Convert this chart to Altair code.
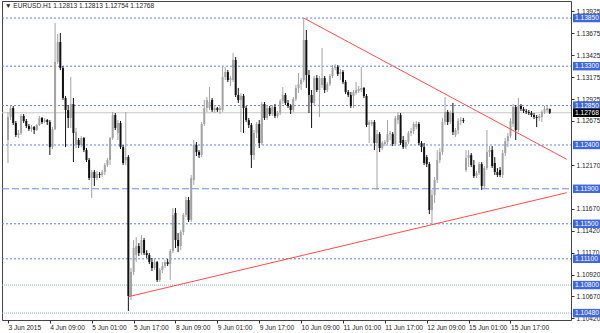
import altair as alt
import pandas as pd

# EURUSD H1 candles, prices in points (price * 100000)
OPEN = [112457,112720,112822,112651,112514,112537,112731,112674,112617,112582,
        112605,112571,112628,112708,112662,112685,112662,112376,112582,113348,
        113576,113279,112937,112799,112708,112868,112399,112457,112399,112480,
        112342,112228,112023,112091,112023,112068,112057,112091,112171,112228,
        112480,112742,112537,112651,112376,112228,112262,110675,110949,111143,
        111246,111166,111315,111166,111143,111063,110995,111063,110858,110972,
        111018,111063,111040,111189,111623,111315,111246,111406,111600,111772,
        111543,112000,112399,112319,112285,112640,112822,112822,112914,112799,
        112822,112799,112799,113176,113234,113142,113142,113371,112971,112914,
        112960,112822,112685,112628,112285,112537,112640,112422,112868,112708,
        112822,112754,112834,112731,112765,112902,112971,112880,112845,112799,
        112925,113051,113096,113142,113599,113199,112971,112880,113165,113028,
        113085,113165,113028,113096,113188,113279,113291,113211,113234,113119,
        113005,112971,112960,112994,113017,113028,113051,112960,112628,112640,
        112662,112422,112525,112365,112411,112434,112525,112525,112411,112685,
        112742,112457,112376,112434,112537,112560,112605,112640,112422,112376,
        112262,112183,111657,111829,112000,112228,112319,112662,112777,112662,
        112765,112514,112571,112674,112685,112114,112251,112285,112171,112046,
        112080,112183,111931,112137,112319,112342,112194,112091,112114,112057,
        112308,112445,112502,112640,112834,112571,112845,112811,112788,112777,
        112765,112742,112720,112708,112720,112777,112799,112813]
CLOSE = [112720,112822,112651,112514,112537,112731,112674,112617,112582,112605,
         112571,112628,112708,112662,112685,112662,112376,112582,113348,113576,
         113279,112937,112799,112708,112868,112537,112548,112399,112480,112342,
         112228,112023,112091,112023,112068,112057,112091,112171,112228,112480,
         112742,112594,112651,112376,112194,112262,110675,110949,111223,111246,
         111166,111315,111166,111143,111063,110995,111063,110858,110972,111018,
         111063,111040,111189,111600,111315,111246,111406,111600,111772,111543,
         112023,112399,112319,112285,112640,112822,112914,112891,112799,112822,
         112799,112822,113176,113234,113142,113165,113371,112971,112914,112960,
         112822,112685,112628,112285,112537,112640,112422,112868,112708,112822,
         112754,112834,112731,112765,112902,112971,112880,112845,112799,112925,
         113051,113096,113142,113599,113199,112971,112880,113165,113028,113165,
         113165,113028,113096,113188,113279,113291,113211,113234,113119,113005,
         112971,112845,113005,113028,113040,113051,112960,112628,112662,112662,
         112422,112525,112365,112422,112434,112525,112537,112411,112708,112742,
         112422,112376,112434,112537,112560,112640,112640,112422,112376,112194,
         112183,111657,111829,112000,112228,112319,112662,112777,112662,112765,
         112548,112571,112674,112685,112674,112251,112285,112171,112046,112080,
         112183,111931,112137,112319,112342,112160,112091,112057,112057,112308,
         112445,112502,112674,112834,112571,112845,112811,112788,112777,112765,
         112742,112720,112708,112731,112777,112811,112822,112768]
HIGH = [112777,112857,112845,112674,112571,112754,112754,112697,112640,112628,
        112617,112640,112731,112720,112708,112697,112685,112605,113793,113668,
        113679,113302,112960,112857,113176,112937,112594,112480,112502,112491,
        112365,112251,112114,112114,112103,112091,112114,112194,112251,112491,
        112777,112765,112685,112674,112399,112777,112285,110995,111315,111349,
        111280,111372,111337,111199,111166,111109,111109,111075,110995,111063,
        111086,111097,111212,111680,111680,111394,111429,111623,111806,111806,
        112057,112457,112434,112342,112662,112914,112948,113062,112937,112845,
        112834,112845,113291,113291,113256,113188,113451,113405,113051,112994,
        112982,112845,112708,112651,112571,112662,112685,112891,112891,112857,
        112845,112857,112868,112788,112925,113062,112994,112914,112868,112948,
        113085,113222,113165,113850,113713,113256,113028,113188,113199,113188,
        113508,113188,113119,113211,113313,113325,113313,113268,113256,113142,
        113028,113005,113028,113119,113074,113291,113062,112982,112685,112685,
        112685,112571,112548,112445,112457,112685,112560,112548,112731,112777,
        112765,112502,112457,112560,112594,112662,112674,112662,112445,112422,
        112285,112205,111886,112034,112342,112365,112708,112948,112799,112788,
        112880,112594,112708,112720,112708,112342,112342,112308,112228,112103,
        112205,112205,112160,112571,112388,112388,112262,112137,112148,112342,
        112480,112537,112708,112868,112857,112937,112868,112834,112811,112799,
        112788,112765,112742,112754,112799,112845,112845,112813]
LOW = [112194,112685,112628,112491,112480,112514,112651,112594,112560,112548,
       112525,112560,112617,112640,112651,112628,112285,112354,112571,113325,
       113256,112914,112376,112594,112594,112205,112365,112365,112376,112319,
       112205,112000,111795,111931,112000,112023,112034,112057,112148,112171,
       112457,112571,112457,112354,112171,112171,110504,110629,110915,111063,
       111132,111143,111143,111109,111040,110961,110972,110835,110835,110938,
       110995,111018,110858,111166,111223,111177,111199,111372,111577,111520,
       111520,111943,112274,112251,112262,112617,112777,112799,112777,112765,
       112777,112754,112777,113142,113119,113074,113119,112948,112880,112548,
       112537,112662,112594,112137,112228,112480,112365,112399,112685,112685,
       112731,112731,112708,112708,112742,112868,112857,112822,112754,112777,
       112902,112994,113028,113119,113051,112765,112594,112857,113005,112720,
       113051,112994,113005,113074,113165,113256,113188,113142,113096,112982,
       112948,112822,112822,112971,112994,113005,112937,112605,112422,112617,
       112342,111886,112319,112342,112388,112411,112457,112388,112388,112640,
       112399,112354,112354,112411,112502,112525,112582,112399,112319,112171,
       112148,111611,111497,111738,111966,112194,112285,112628,112628,112640,
       112514,112491,112525,112628,112651,112091,112148,112148,112023,112023,
       112057,111886,111909,112114,112262,112137,112057,112034,112034,112023,
       112274,112376,112480,112605,112457,112548,112788,112765,112754,112742,
       112720,112697,112605,112674,112662,112754,112777,112754]

TIME_LABELS = ["3 Jun 2015", "4 Jun 09:00", "5 Jun 01:00", "5 Jun 17:00", "8 Jun 09:00",
               "9 Jun 01:00", "9 Jun 17:00", "10 Jun 09:00", "11 Jun 01:00", "11 Jun 17:00",
               "12 Jun 09:00", "15 Jun 01:00", "15 Jun 17:00"]
PRICE_TICKS = [1.13925, 1.13675, 1.13425, 1.13175, 1.12925, 1.12675, 1.12170,
               1.11670, 1.11420, 1.11170, 1.10920, 1.10670, 1.10420]
DOTTED_LEVELS = [1.13850, 1.13300, 1.12850, 1.12400, 1.11500, 1.11100]
FINE_LEVELS = [1.10800, 1.10480]
DASHED_LEVELS = [1.11900]
BOX_LEVELS = [1.13850, 1.13300, 1.12850, 1.12400, 1.11900, 1.11500, 1.11100, 1.10800, 1.10480]
CURRENT_PRICE = 1.12768
TREND_UPPER_BAR = [113, 213.5]
TREND_UPPER_PRICE = [1.13850, 1.12236]
TREND_LOWER_BAR = [46, 213.5]
TREND_LOWER_PRICE = [1.10667, 1.11855]
TITLE = "\u25bc EURUSD.H1  1.12813 1.12813 1.12754 1.12768"

W, H = 569, 319
FONT = "Liberation Sans"
FS = 6.6

df = pd.DataFrame({
    "i": list(range(len(OPEN))),
    "open": [v / 1e5 for v in OPEN],
    "close": [v / 1e5 for v in CLOSE],
    "high": [v / 1e5 for v in HIGH],
    "low": [v / 1e5 for v in LOW],
})
df["dir"] = ["up" if c >= o else "down" for o, c in zip(df["open"], df["close"])]

xs = alt.Scale(domain=[-0.375, 213.21], nice=False, zero=False)
ys = alt.Scale(domain=[1.10401, 1.140446], nice=False, zero=False)

label_expr = "[" + ",".join("'%s'" % t for t in TIME_LABELS) + "][round(datum.value/16)]"
xaxis = alt.Axis(values=[16 * k for k in range(len(TIME_LABELS))], labelExpr=label_expr,
                 grid=False, domain=False, tickSize=3, tickColor="#333", labelAlign="left",
                 labelPadding=1, labelFontSize=FS, labelFont=FONT, labelColor="#222",
                 labelOverlap=False, labelFlush=False, labelBound=False, title=None, zindex=0)
yaxis = alt.Axis(orient="right", values=PRICE_TICKS, format=".5f", grid=False, domain=False,
                 tickSize=3, tickColor="#333", labelPadding=2, labelFontSize=FS, labelFont=FONT,
                 labelColor="#222", labelOverlap=False, labelFlush=False, labelBound=False,
                 title=None, zindex=0)


def Y(field):
    return alt.Y(field, scale=ys, axis=yaxis)


def X(field):
    return alt.X(field, scale=xs, axis=xaxis)


def hline(levels, dash, col):
    d = pd.DataFrame({"p": levels})
    return alt.Chart(d).mark_rule(strokeDash=dash, color=col, strokeWidth=1).encode(
        y=Y("p:Q"), x=alt.value(0), x2=alt.value(W))


dotted = hline(DOTTED_LEVELS, [2, 2], "#5d7fe6")
fine = hline(FINE_LEVELS, [1, 1], "#8ea5ee")
dashed = hline(DASHED_LEVELS, [7, 3], "#6d8be3")
cur = hline([CURRENT_PRICE], [1, 0], "#c6c6c6")

up = alt.Chart(df).transform_filter("datum.dir == 'up'")
down = alt.Chart(df).transform_filter("datum.dir == 'down'")
wick_up = up.mark_rule(strokeWidth=1, color="#a3a3a3").encode(x=X("i:Q"), y=Y("low:Q"), y2="high:Q")
wick_dn = down.mark_rule(strokeWidth=1, color="#111111").encode(x=X("i:Q"), y=Y("low:Q"), y2="high:Q")
body_up = up.mark_bar(size=2, color="#a3a3a3").encode(x=X("i:Q"), y=Y("open:Q"), y2="close:Q")
body_dn = down.mark_bar(size=2, color="#111111").encode(x=X("i:Q"), y=Y("open:Q"), y2="close:Q")

up_df = pd.DataFrame({"i": TREND_UPPER_BAR, "p": TREND_UPPER_PRICE})
lo_df = pd.DataFrame({"i": TREND_LOWER_BAR, "p": TREND_LOWER_PRICE})
trend_up = alt.Chart(up_df).mark_line(color="#ff4d4d", strokeWidth=1, clip=True).encode(
    x=X("i:Q"), y=Y("p:Q"))
trend_lo = alt.Chart(lo_df).mark_line(color="#ff4d4d", strokeWidth=1, clip=True).encode(
    x=X("i:Q"), y=Y("p:Q"))


def box_layer(levels, fill):
    d = pd.DataFrame({"p": levels})
    d["t"] = ["%.5f" % v for v in levels]
    rect = alt.Chart(d).transform_calculate(
        lo="datum.p - 0.00048", hi="datum.p + 0.00048"
    ).mark_rect(color=fill, opacity=1).encode(
        y=Y("lo:Q"), y2="hi:Q", x=alt.value(W + 2), x2=alt.value(W + 29))
    txt = alt.Chart(d).mark_text(align="left", baseline="middle", fontSize=FS, font=FONT,
                                 color="white").encode(
        y=Y("p:Q"), x=alt.value(W + 4), text="t:N")
    return rect, txt


blue_rect, blue_txt = box_layer(BOX_LEVELS, "#3f67dc")
cur_rect, cur_txt = box_layer([CURRENT_PRICE], "#000000")

title = alt.Chart(pd.DataFrame({"t": [TITLE]})).mark_text(
    align="left", baseline="middle", fontSize=FS, font=FONT, color="#222").encode(
    x=alt.value(3), y=alt.value(5), text="t:N")

chart = alt.layer(dotted, fine, dashed, cur, wick_up, wick_dn, body_up, body_dn,
                  trend_up, trend_lo, blue_rect, blue_txt, cur_rect, cur_txt, title).properties(
    width=W, height=H,
    autosize=alt.AutoSizeParams(type="none"),
    padding={"left": 2, "top": 1, "right": 29, "bottom": 13},
    background="white",
).configure_view(stroke="#444", strokeWidth=1)

chart.save("out.html", embed_options={"renderer": "svg", "actions": False})
